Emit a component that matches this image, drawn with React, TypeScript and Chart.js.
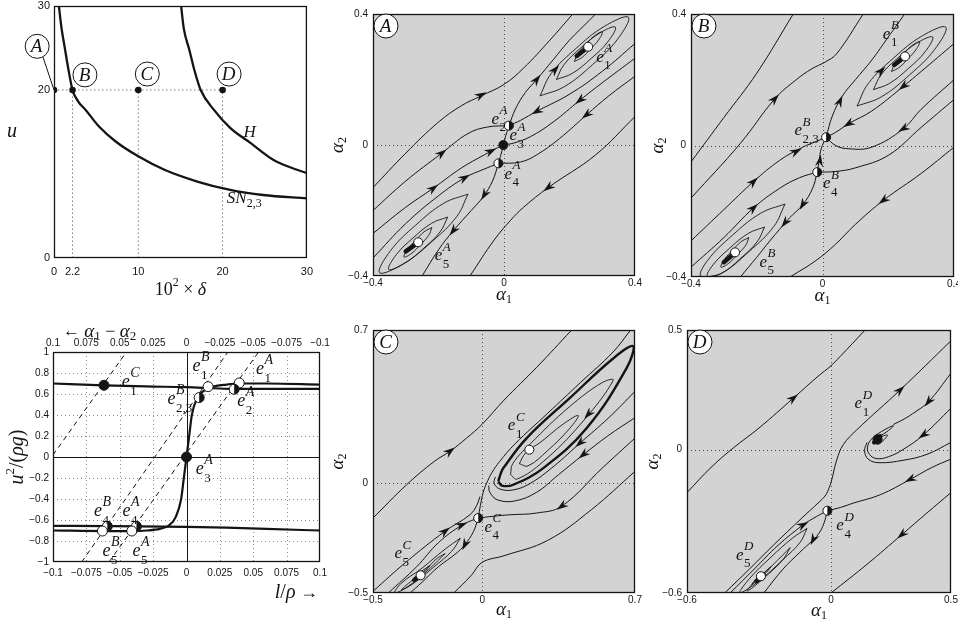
import React, { useEffect, useRef } from 'react';
import { Chart, registerables } from 'chart.js';
Chart.register(...registerables);

type Pt = [number, number];
type Arrow = [number, number, number, number];
type Eq = [number, number, 'f' | 'o' | 'h'];
type Lab = [number, number, string, string];

// ================= top-left: (10^2 delta, u) plane =================
const tlDeltaTicks = [0, 2.2, 10, 20, 30];
const tlUTicks = [0, 20, 30];
const snDelta = [0.58, 0.9, 1.25, 1.7, 2.2, 2.9, 3.78, 5.34, 7.28, 10, 13.1, 17, 20.9, 24.8, 30];
const snU = [30, 27.3, 25.2, 22.5, 20, 18.6, 17.6, 15.65, 13.9, 12.1, 10.5, 9.1, 8.1, 7.5, 7.1];
const hDelta = [15.08, 15.4, 16.05, 16.7, 17.4, 19, 20.9, 23.3, 26, 28, 30];
const hU = [30, 27.3, 24.8, 22.2, 20, 17.6, 15.5, 13.7, 11.7, 10.8, 10.1];
const tlMarkedDelta = [0, 2.2, 10, 20];
const tlMarkedU = 20;
const tlCircles: [number, number, string][] = [[-2, 25.2, 'A'], [3.67, 21.8, 'B'], [11.07, 21.9, 'C'], [20.77, 21.9, 'D']];
const tlLeader: Pt[] = [[-1.4, 24.2], [0, 20]];

// ================= bottom-left: (l/rho, u^2/(rho g)) =================
const blXTicks = [-0.1, -0.075, -0.05, -0.025, 0, 0.025, 0.05, 0.075, 0.1];
const blYTicks = [-1, -0.8, -0.6, -0.4, -0.2, 0, 0.2, 0.4, 0.6, 0.8, 1];
const blS: Pt[] = [[-0.1, -0.7], [-0.06, -0.705], [-0.04, -0.705], [-0.03, -0.7], [-0.02, -0.685], [-0.013, -0.65], [-0.008, -0.57], [-0.004, -0.4], [-0.002, -0.2], [0, 0], [0.002, 0.2], [0.004, 0.4], [0.008, 0.56], [0.013, 0.63], [0.02, 0.67], [0.03, 0.69], [0.04, 0.7], [0.06, 0.7], [0.1, 0.69]];
const blUpper: Pt[] = [[-0.1, 0.7], [-0.062, 0.683], [-0.03, 0.672], [0, 0.665], [0.02, 0.655], [0.0357, 0.648], [0.06, 0.648], [0.1, 0.648]];
const blLower: Pt[] = [[-0.1, -0.655], [-0.06, -0.658], [-0.037, -0.66], [0, -0.665], [0.03, -0.672], [0.06, -0.685], [0.1, -0.7]];
const blDashed: Pt[][] = [[[-0.1, 0.02], [-0.045, 1]], [[-0.0785, -1], [0.031, 1]], [[-0.058, -1], [0.054, 1]]];
const blEqs: Eq[] = [[-0.0618, 0.683, 'f'], [0.0162, 0.67, 'o'], [0.0395, 0.705, 'o'], [0.0357, 0.645, 'h'], [0.0095, 0.566, 'h'], [0, 0, 'f'], [-0.0593, -0.66, 'h'], [-0.0375, -0.66, 'h'], [-0.063, -0.705, 'o'], [-0.041, -0.705, 'o']];
const blLabels: Lab[] = [[-0.0455, 0.7, 'C', '1'], [0.0075, 0.857, 'B', '1'], [0.055, 0.826, 'A', '1'], [-0.0113, 0.54, 'B', '2,3'], [0.041, 0.524, 'A', '2'], [0.01, -0.127, 'A', '3'], [-0.0663, -0.524, 'B', '4'], [-0.045, -0.524, 'A', '4'], [-0.06, -0.905, 'B', '5'], [-0.0375, -0.905, 'A', '5']];

// ================= phase portrait A =================
const aTicks = [-0.4, 0, 0.4];
const aStreams: Pt[][] = [
  [[-0.4, -0.13], [-0.3, -0.025], [-0.2, 0.07], [-0.13, 0.12], [-0.07, 0.15], [0, 0.185], [0.06, 0.235], [0.14, 0.32], [0.21, 0.4]],
  [[-0.4, -0.2], [-0.3, -0.11], [-0.19, -0.025], [-0.11, 0.035], [-0.05, 0.055], [0.015, 0.059]],
  [[-0.4, -0.27], [-0.3, -0.19], [-0.216, -0.132], [-0.13, -0.07], [-0.06, -0.03], [-0.027, -0.012], [-0.002, 0]],
  [[-0.4, -0.345], [-0.3, -0.24], [-0.2, -0.155], [-0.12, -0.1], [-0.064, -0.075], [-0.017, -0.056]],
  [[0.4, 0.31], [0.3, 0.225], [0.2, 0.155], [0.1, 0.103], [0.05, 0.075], [0.015, 0.059]],
  [[0.4, 0.265], [0.3, 0.19], [0.232, 0.137], [0.15, 0.07], [0.08, 0.025], [0.03, 0.006], [-0.002, 0]],
  [[0.4, 0.21], [0.32, 0.15], [0.252, 0.092], [0.17, 0.02], [0.1, -0.03], [0.05, -0.052], [-0.017, -0.056]],
  [[0.4, 0.087], [0.28, -0.03], [0.135, -0.13], [0.06, -0.19], [0.02, -0.23], [-0.03, -0.29], [-0.104, -0.4]],
  [[0.015, 0.059], [0.035, 0.11], [0.065, 0.16], [0.1, 0.2], [0.15, 0.26], [0.2, 0.32], [0.26, 0.38], [0.28, 0.4]],
  [[0.015, 0.059], [0.006, 0.03], [-0.002, 0]],
  [[-0.017, -0.056], [-0.009, -0.028], [-0.002, 0]],
  [[-0.017, -0.056], [-0.035, -0.11], [-0.065, -0.16], [-0.1, -0.2], [-0.155, -0.262], [-0.2, -0.32], [-0.25, -0.4]],
];
const aLoops: Pt[][] = [
  [[0.11, 0.15], [0.144, 0.218], [0.22, 0.295], [0.306, 0.362], [0.38, 0.39], [0.346, 0.322], [0.27, 0.245], [0.184, 0.178]],
  [[0.16, 0.2], [0.183, 0.245], [0.234, 0.296], [0.291, 0.341], [0.34, 0.36], [0.317, 0.315], [0.266, 0.264], [0.209, 0.219]],
  [[0.215, 0.255], [0.225, 0.279], [0.25, 0.307], [0.276, 0.333], [0.3, 0.345], [0.289, 0.321], [0.264, 0.293], [0.239, 0.268]],
  [[-0.11, -0.15], [-0.144, -0.218], [-0.22, -0.295], [-0.306, -0.362], [-0.38, -0.39], [-0.346, -0.322], [-0.27, -0.245], [-0.184, -0.178]],
  [[-0.172, -0.22], [-0.195, -0.265], [-0.246, -0.316], [-0.303, -0.361], [-0.352, -0.38], [-0.329, -0.335], [-0.278, -0.284], [-0.221, -0.239]],
  [[-0.22, -0.252], [-0.23, -0.276], [-0.255, -0.304], [-0.281, -0.33], [-0.305, -0.342], [-0.294, -0.318], [-0.269, -0.29], [-0.244, -0.265]],
];
const aBlobs: Pt[][] = [[[0.222, 0.272], [0.255, 0.298]], [[-0.3, -0.325], [-0.265, -0.3]]];
const aArrows: Arrow[] = [
  [-0.07, 0.152, 1, 0.55], [-0.19, -0.025, 1, 0.8], [-0.216, -0.132, 1, 0.75], [-0.12, -0.1, 1, 0.55], [-0.04, -0.019, 1, 0.5],
  [0.1, 0.2, 0.8, 1], [0.156, 0.23, 1, 1.1], [0.1, 0.103, -1, -0.55], [0.232, 0.137, -1, -0.8], [0.252, 0.092, -1, -0.8],
  [0.135, -0.13, -1, -0.75], [-0.155, -0.262, -0.8, -1], [-0.06, -0.152, -0.6, -1],
];
const aEqs: Eq[] = [[0.257, 0.3, 'o'], [0.015, 0.059, 'h'], [-0.002, 0, 'f'], [-0.017, -0.056, 'h'], [-0.262, -0.297, 'o']];
const aLabels: Lab[] = [[0.293, 0.265, 'A', '1'], [-0.027, 0.076, 'A', '2'], [0.028, 0.025, 'A', '3'], [0.013, -0.092, 'A', '4'], [-0.2, -0.341, 'A', '5']];

// ================= phase portrait B =================
const bTicks = [-0.4, 0, 0.4];
const bStreams: Pt[][] = [
  [[-0.4, -0.05], [-0.3, 0.085], [-0.2, 0.22], [-0.089, 0.4]],
  [[-0.4, -0.16], [-0.251, 0.005], [-0.145, 0.142], [-0.08, 0.2], [-0.033, 0.233], [0.01, 0.255], [0.043, 0.279], [0.124, 0.4]],
  [[-0.4, -0.29], [-0.3, -0.195], [-0.21, -0.11], [-0.13, -0.045], [-0.06, -0.005], [-0.02, 0.012], [0.011, 0.025]],
  [[-0.4, -0.37], [-0.3, -0.28], [-0.21, -0.19], [-0.13, -0.13], [-0.07, -0.098], [-0.016, -0.081]],
  [[-0.016, -0.081], [-0.01, -0.045], [-0.004, -0.01], [0.011, 0.025]],
  [[-0.016, -0.081], [-0.03, -0.13], [-0.06, -0.18], [-0.1, -0.22], [-0.16, -0.29], [-0.2, -0.34], [-0.25, -0.4]],
  [[0.011, 0.025], [0.03, 0.09], [0.06, 0.15], [0.1, 0.2], [0.15, 0.26], [0.2, 0.33], [0.25, 0.4]],
  [[0.4, 0.31], [0.3, 0.225], [0.246, 0.18], [0.15, 0.105], [0.079, 0.066], [0.04, 0.04], [0.011, 0.025]],
  [[0.4, 0.2], [0.3, 0.11], [0.246, 0.051], [0.15, -0.005], [0.08, -0.01], [0.04, 0.0], [0.011, 0.025]],
  [[0.4, 0.14], [0.3, 0.055], [0.2, -0.03], [0.1, -0.068], [0.04, -0.079], [-0.016, -0.081]],
  [[0.4, -0.005], [0.3, -0.085], [0.185, -0.167], [0.1, -0.24], [0.04, -0.3], [-0.02, -0.35], [-0.099, -0.4]],
];
const bLoops: Pt[][] = [
  [[0.105, 0.12], [0.139, 0.188], [0.215, 0.265], [0.301, 0.332], [0.375, 0.36], [0.341, 0.292], [0.265, 0.215], [0.179, 0.148]],
  [[0.155, 0.17], [0.178, 0.215], [0.229, 0.266], [0.286, 0.311], [0.335, 0.33], [0.312, 0.285], [0.261, 0.234], [0.204, 0.189]],
  [[0.21, 0.225], [0.22, 0.249], [0.245, 0.277], [0.271, 0.303], [0.295, 0.315], [0.284, 0.291], [0.259, 0.263], [0.234, 0.238]],
  [[-0.114, -0.178], [-0.148, -0.246], [-0.224, -0.323], [-0.31, -0.39], [-0.37, -0.398], [-0.35, -0.35], [-0.274, -0.273], [-0.188, -0.206]],
  [[-0.176, -0.248], [-0.199, -0.293], [-0.25, -0.344], [-0.307, -0.389], [-0.35, -0.398], [-0.333, -0.363], [-0.282, -0.312], [-0.225, -0.267]],
  [[-0.224, -0.28], [-0.234, -0.304], [-0.259, -0.332], [-0.285, -0.358], [-0.309, -0.37], [-0.298, -0.346], [-0.273, -0.318], [-0.248, -0.293]],
];
const bBlobs: Pt[][] = [[[0.218, 0.245], [0.25, 0.27]], [[-0.3, -0.355], [-0.268, -0.328]]];
const bArrows: Arrow[] = [
  [-0.145, 0.142, 1, 1.1], [-0.21, -0.11, 1, 0.95], [-0.21, -0.19, 1, 0.9], [-0.08, -0.018, 1, 0.5], [-0.008, -0.046, 0.15, 1],
  [0.053, 0.135, 0.45, 1], [0.079, 0.066, -1, -0.6], [0.246, 0.18, -1, -0.8], [0.246, 0.051, -1, -0.6], [0.185, -0.167, -1, -0.75],
  [-0.06, -0.18, -0.6, -1], [-0.114, -0.235, -0.8, -1], [0.178, 0.227, 1, 1],
];
const bEqs: Eq[] = [[0.251, 0.271, 'o'], [0.011, 0.025, 'h'], [-0.016, -0.081, 'h'], [-0.266, -0.325, 'o']];
const bLabels: Lab[] = [[0.195, 0.336, 'B', '1'], [-0.074, 0.042, 'B', '2,3'], [0.013, -0.12, 'B', '4'], [-0.18, -0.358, 'B', '5']];

// ================= phase portrait C =================
const cTicks = [-0.5, 0, 0.7];
const cStreams: Pt[][] = [
  [[-0.5, -0.158], [-0.346, -0.006], [-0.22, 0.1], [-0.147, 0.147], [-0.071, 0.207], [0, 0.27], [0.1, 0.38], [0.25, 0.53], [0.41, 0.7]],
  [[-0.5, -0.492], [-0.35, -0.36], [-0.17, -0.218], [-0.056, -0.143], [-0.025, -0.1], [-0.01, -0.06]],
  [[-0.43, -0.5], [-0.3, -0.38], [-0.2, -0.27], [-0.094, -0.19], [-0.05, -0.17], [-0.018, -0.158]],
  [[-0.018, -0.158], [-0.04, -0.22], [-0.079, -0.279], [-0.12, -0.32], [-0.2, -0.38], [-0.28, -0.455], [-0.33, -0.5]],
  [[-0.018, -0.158], [-0.008, -0.1], [0.005, -0.04], [0.02, 0], [0.045, 0.05], [0.08, 0.1], [0.15, 0.18], [0.3, 0.32], [0.45, 0.46], [0.6, 0.6], [0.68, 0.7]],
  [[0.7, 0.42], [0.58, 0.3], [0.448, 0.184], [0.33, 0.08], [0.22, 0], [0.14, -0.03], [0.08, -0.025], [0.055, 0], [0.06, 0.03]],
  [[0.7, 0.3], [0.58, 0.22], [0.463, 0.131], [0.35, 0.04], [0.25, -0.04], [0.15, -0.08], [0.07, -0.075], [0.035, -0.04], [0.03, -0.01]],
  [[0.7, 0.207], [0.55, 0.07], [0.364, -0.104], [0.25, -0.135], [0.128, -0.143], [0.05, -0.15], [-0.018, -0.158]],
  [[0.7, 0.055], [0.5, -0.12], [0.3, -0.26], [0.1, -0.33], [0, -0.36], [-0.05, -0.42], [-0.13, -0.5]],
];
const cBold: Pt[][] = [
  [[0.074, 0.01], [0.085, 0.045], [0.097, 0.07], [0.204, 0.207], [0.402, 0.39], [0.6, 0.57], [0.692, 0.626], [0.662, 0.527], [0.479, 0.253], [0.28, 0.07], [0.143, -0.006], [0.09, -0.01], [0.074, 0.01]],
];
const cLoops: Pt[][] = [
  [[0.13, 0.04], [0.16, 0.02], [0.28, 0.1], [0.45, 0.27], [0.6, 0.47], [0.55, 0.46], [0.4, 0.35], [0.22, 0.18], [0.14, 0.09]],
  [[0.17, 0.09], [0.21, 0.08], [0.3, 0.15], [0.4, 0.25], [0.44, 0.31], [0.37, 0.27], [0.27, 0.19], [0.2, 0.14]],
  [[-0.1, -0.25], [-0.14, -0.31], [-0.22, -0.38], [-0.32, -0.46], [-0.4, -0.5], [-0.37, -0.455], [-0.28, -0.39], [-0.17, -0.3]],
  [[-0.17, -0.32], [-0.21, -0.36], [-0.27, -0.415], [-0.34, -0.47], [-0.37, -0.485], [-0.33, -0.45], [-0.26, -0.395], [-0.21, -0.345]],
  [[-0.24, -0.375], [-0.26, -0.4], [-0.29, -0.425], [-0.32, -0.445], [-0.3, -0.42], [-0.27, -0.395]],
];
const cBlobs: Pt[][] = [[[-0.31, -0.44], [-0.285, -0.42]]];
const cArrows: Arrow[] = [
  [-0.147, 0.147, 1, 0.75], [-0.17, -0.218, 1, 0.8], [-0.094, -0.19, 1, 0.4], [-0.079, -0.279, -0.5, -1],
  [0.486, 0.315, -1, -1.1], [0.448, 0.184, -1, -0.9], [0.463, 0.131, -1, -0.8], [0.364, -0.104, -1, -0.7],
];
const cEqs: Eq[] = [[0.216, 0.154, 'o'], [-0.018, -0.158, 'h'], [-0.282, -0.419, 'o']];
const cLabels: Lab[] = [[0.135, 0.259, 'C', '1'], [0.028, -0.205, 'C', '4'], [-0.384, -0.326, 'C', '5']];

// ================= phase portrait D =================
const dTicks = [-0.6, 0, 0.5];
const dStreams: Pt[][] = [
  [[-0.6, -0.18], [-0.5, -0.075], [-0.408, 0.006], [-0.3, 0.09], [-0.157, 0.215], [-0.05, 0.31], [-0.004, 0.347], [0.038, 0.389], [0.142, 0.5]],
  [[-0.443, -0.6], [-0.34, -0.5], [-0.24, -0.4], [-0.12, -0.285], [-0.05, -0.22], [-0.022, -0.19], [-0.008, -0.16], [0.003, -0.127], [0.024, -0.043], [0.051, 0.02], [0.107, 0.082], [0.288, 0.249], [0.5, 0.455]],
  [[-0.42, -0.6], [-0.32, -0.5], [-0.22, -0.4], [-0.116, -0.315], [-0.06, -0.28], [-0.015, -0.256]],
  [[-0.015, -0.256], [-0.03, -0.31], [-0.05, -0.35], [-0.074, -0.377], [-0.13, -0.43], [-0.2, -0.5], [-0.28, -0.6]],
  [[-0.015, -0.256], [0.04, -0.242], [0.093, -0.224], [0.205, -0.189], [0.33, -0.125], [0.42, -0.075], [0.5, -0.04]],
  [[0.5, -0.18], [0.4, -0.265], [0.295, -0.356], [0.15, -0.48], [0, -0.6]],
  [[0.5, 0.319], [0.406, 0.2], [0.34, 0.15], [0.3, 0.125], [0.26, 0.105]],
  [[0.5, 0.173], [0.385, 0.061], [0.3, 0], [0.24, -0.03], [0.19, -0.038], [0.16, -0.02], [0.152, 0.01], [0.17, 0.045], [0.21, 0.075], [0.26, 0.1], [0.24, 0.08], [0.21, 0.06]],
  [[0.5, 0.03], [0.4, -0.02], [0.3, -0.045], [0.2, -0.055], [0.155, -0.04], [0.14, -0.005], [0.15, 0.03]],
];
const dLoops: Pt[][] = [
  [[-0.1, -0.33], [-0.13, -0.39], [-0.2, -0.46], [-0.3, -0.55], [-0.38, -0.6], [-0.34, -0.54], [-0.25, -0.45], [-0.16, -0.37]],
  [[-0.17, -0.41], [-0.2, -0.46], [-0.26, -0.52], [-0.33, -0.58], [-0.35, -0.59], [-0.31, -0.545], [-0.25, -0.49], [-0.2, -0.44]],
  [[-0.25, -0.49], [-0.27, -0.515], [-0.3, -0.54], [-0.33, -0.565], [-0.315, -0.545], [-0.285, -0.52]],
  [[0.18, 0.03], [0.195, 0.022], [0.215, 0.035], [0.235, 0.06], [0.22, 0.058], [0.195, 0.045]],
];
const dBlobs: Pt[][] = [[[0.18, 0.03], [0.205, 0.055]], [[-0.31, -0.55], [-0.28, -0.525]]];
const dArrows: Arrow[] = [
  [-0.157, 0.215, 1, 0.8], [0.288, 0.249, 1, 0.95], [0.406, 0.2, -0.8, -1], [0.385, 0.061, -1, -0.7],
  [0.33, -0.125, -1, -0.5], [0.295, -0.356, -1, -0.85], [-0.116, -0.315, 1, 0.55], [-0.074, -0.377, -0.5, -1],
];
const dEqs: Eq[] = [[0.194, 0.043, 'f'], [-0.015, -0.256, 'h'], [-0.292, -0.53, 'o']];
const dLabels: Lab[] = [[0.114, 0.187, 'D', '1'], [0.038, -0.322, 'D', '4'], [-0.38, -0.447, 'D', '5']];

// ================= styling helpers =================
const SANS = '"Liberation Sans", Arial, sans-serif';
const SERIF = '"Liberation Serif", "DejaVu Serif", serif';
const INK = '#141414';
const BG = '#d3d3d3';

function fmt(v: number): string {
  const s = String(+v.toFixed(3));
  return v < 0 ? '\u2212' + s.slice(1) : s;
}

type Piece = { t: string; s: number; i?: boolean; dy?: number };
function drawPieces(ctx: CanvasRenderingContext2D, x: number, y: number, pieces: Piece[], align: 'left' | 'center' | 'right' = 'left') {
  ctx.save();
  ctx.textBaseline = 'middle';
  ctx.textAlign = 'left';
  ctx.fillStyle = INK;
  const f = (p: Piece) => `${p.i ? 'italic ' : ''}${p.s}px ${SERIF}`;
  let w = 0;
  for (const p of pieces) { ctx.font = f(p); w += ctx.measureText(p.t).width; }
  let cx = align === 'center' ? x - w / 2 : align === 'right' ? x - w : x;
  for (const p of pieces) { ctx.font = f(p); ctx.fillText(p.t, cx, y + (p.dy || 0)); cx += ctx.measureText(p.t).width; }
  ctx.restore();
}

function drawELabel(ctx: CanvasRenderingContext2D, px: number, py: number, sup: string, sub: string, size = 17) {
  ctx.save();
  ctx.fillStyle = INK;
  ctx.textBaseline = 'middle';
  ctx.textAlign = 'left';
  ctx.font = `italic ${size}px ${SERIF}`;
  const ew = ctx.measureText('e').width;
  ctx.fillText('e', px - ew / 2, py - 1);
  const sx = px + ew / 2 + 0.5;
  ctx.font = `italic ${Math.round(size * 0.76)}px ${SERIF}`;
  ctx.fillText(sup, sx, py - size * 0.55);
  ctx.font = `${Math.round(size * 0.74)}px ${SERIF}`;
  ctx.fillText(sub, sx, py + size * 0.45);
  ctx.restore();
}

function drawEq(ctx: CanvasRenderingContext2D, x: number, y: number, k: string, r: number) {
  ctx.save();
  ctx.lineWidth = 1;
  ctx.strokeStyle = INK;
  ctx.beginPath(); ctx.arc(x, y, r, 0, Math.PI * 2);
  ctx.fillStyle = k === 'f' ? INK : '#ffffff';
  ctx.fill();
  if (k === 'h') {
    ctx.beginPath(); ctx.moveTo(x, y - r); ctx.arc(x, y, r, -Math.PI / 2, Math.PI / 2); ctx.closePath();
    ctx.fillStyle = INK; ctx.fill();
  }
  ctx.beginPath(); ctx.arc(x, y, r, 0, Math.PI * 2); ctx.stroke();
  ctx.restore();
}

function drawArrowHead(ctx: CanvasRenderingContext2D, chart: any, a: Arrow) {
  const xs = chart.scales.x, ys = chart.scales.y;
  const px = xs.getPixelForValue(a[0]), py = ys.getPixelForValue(a[1]);
  const qx = xs.getPixelForValue(a[0] + a[2] * 0.01), qy = ys.getPixelForValue(a[1] + a[3] * 0.01);
  let ux = qx - px, uy = qy - py;
  const L = Math.hypot(ux, uy) || 1; ux /= L; uy /= L;
  const nx = -uy, ny = ux;
  const len = 12, half = 4;
  ctx.save();
  ctx.fillStyle = INK;
  ctx.beginPath();
  ctx.moveTo(px + ux * len * 0.5, py + uy * len * 0.5);
  ctx.lineTo(px - ux * len * 0.5 + nx * half, py - uy * len * 0.5 + ny * half);
  ctx.lineTo(px - ux * len * 0.18, py - uy * len * 0.18);
  ctx.lineTo(px - ux * len * 0.5 - nx * half, py - uy * len * 0.5 - ny * half);
  ctx.closePath();
  ctx.fill();
  ctx.restore();
}

function drawFrame(ctx: CanvasRenderingContext2D, a: any, w = 1.3) {
  ctx.save();
  ctx.strokeStyle = INK;
  ctx.lineWidth = w;
  ctx.setLineDash([]);
  ctx.strokeRect(a.left + 0.5, a.top + 0.5, a.width - 1, a.height - 1);
  ctx.restore();
}

function circledLetter(ctx: CanvasRenderingContext2D, x: number, y: number, t: string, r = 12) {
  ctx.save();
  ctx.beginPath(); ctx.arc(x, y, r, 0, Math.PI * 2);
  ctx.fillStyle = '#ffffff'; ctx.fill();
  ctx.strokeStyle = INK; ctx.lineWidth = 1; ctx.stroke();
  ctx.fillStyle = INK;
  ctx.font = `italic 19px ${SERIF}`;
  ctx.textAlign = 'center'; ctx.textBaseline = 'middle';
  ctx.fillText(t, x - 0.5, y + 1);
  ctx.restore();
}

function axis(min: number, max: number, ticks: number[], opts: { isX: boolean; size: number; pad: number; font: number; pos?: string; reverse?: boolean }) {
  return {
    type: 'linear', min, max, position: opts.pos, reverse: !!opts.reverse,
    afterBuildTicks: (s: any) => { s.ticks = ticks.map((v) => ({ value: v })); },
    grid: { display: false, drawTicks: false },
    border: { display: false },
    ticks: { autoSkip: false, maxRotation: 0, minRotation: 0, padding: opts.pad, color: INK, font: { family: SANS, size: opts.font }, callback: (v: any) => fmt(Number(v)) },
    afterFit: (s: any) => { if (opts.isX) s.height = opts.size; else s.width = opts.size; },
  };
}

const lineDs = (pts: Pt[], w: number, closed = false, extra: any = {}) => ({
  data: (closed ? [...pts, pts[0]] : pts).map(([x, y]) => ({ x, y })),
  showLine: true, borderColor: INK, borderWidth: w, pointRadius: 0, pointHoverRadius: 0, tension: 0.4, fill: false, ...extra,
});

const baseOptions = { responsive: false, maintainAspectRatio: false, devicePixelRatio: 1, animation: false, events: [], plugins: { legend: { display: false }, tooltip: { enabled: false } } };

// ================= phase config =================
interface PhaseSpec {
  min: number; max: number; ticks: number[]; streams: Pt[][]; loops: Pt[][]; bold: Pt[][]; blobs: Pt[][];
  arrows: Arrow[]; eqs: Eq[]; labels: Lab[]; letter: string; yW: number; xH: number; padTop: number; padRight: number; xTitleDy: number; yTitleDx: number;
}
function phaseConfig(p: PhaseSpec) {
  const datasets = [
    ...p.blobs.map((b) => lineDs(b, 4.5, false, { tension: 0, borderCapStyle: 'round' })),
    ...p.bold.map((b) => lineDs(b, 2.4)),
    ...p.loops.map((l) => lineDs(l, 0.9, true)),
    ...p.streams.map((s) => lineDs(s, 1)),
  ];
  const plugin = {
    id: 'phase' + p.letter,
    beforeDraw(chart: any) {
      const { ctx, chartArea: a } = chart;
      ctx.save(); ctx.fillStyle = BG; ctx.fillRect(a.left, a.top, a.width, a.height); ctx.restore();
    },
    beforeDatasetsDraw(chart: any) {
      const { ctx, chartArea: a } = chart;
      const x0 = Math.round(chart.scales.x.getPixelForValue(0)) + 0.5;
      const y0 = Math.round(chart.scales.y.getPixelForValue(0)) + 0.5;
      ctx.save(); ctx.strokeStyle = '#4a4a4a'; ctx.lineWidth = 1; ctx.setLineDash([1, 3]);
      ctx.beginPath(); ctx.moveTo(x0, a.top); ctx.lineTo(x0, a.bottom); ctx.moveTo(a.left, y0); ctx.lineTo(a.right, y0); ctx.stroke();
      ctx.restore();
    },
    afterDatasetsDraw(chart: any) {
      const { ctx, chartArea: a } = chart;
      const xs = chart.scales.x, ys = chart.scales.y;
      for (const ar of p.arrows) drawArrowHead(ctx, chart, ar);
      for (const e of p.eqs) drawEq(ctx, xs.getPixelForValue(e[0]), ys.getPixelForValue(e[1]), e[2], 4.5);
      for (const l of p.labels) drawELabel(ctx, xs.getPixelForValue(l[0]), ys.getPixelForValue(l[1]), l[2], l[3]);
      drawFrame(ctx, a);
      circledLetter(ctx, a.left + 13, a.top + 12, p.letter);
      drawPieces(ctx, (a.left + a.right) / 2, a.bottom + p.xTitleDy, [{ t: 'α', s: 19, i: true }, { t: '1', s: 12, dy: 5 }], 'center');
      ctx.save();
      ctx.translate(a.left - p.yTitleDx, (a.top + a.bottom) / 2);
      ctx.rotate(-Math.PI / 2);
      drawPieces(ctx, 0, 0, [{ t: 'α', s: 19, i: true }, { t: '2', s: 12, dy: 5 }], 'center');
      ctx.restore();
    },
  };
  return {
    type: 'scatter',
    data: { datasets },
    options: {
      ...baseOptions,
      layout: { padding: { top: p.padTop, right: p.padRight, left: 0, bottom: 0 } },
      scales: {
        x: axis(p.min, p.max, p.ticks, { isX: true, size: p.xH, pad: 1, font: 10 }),
        y: axis(p.min, p.max, p.ticks, { isX: false, size: p.yW, pad: 5, font: 10 }),
      },
    },
    plugins: [plugin],
  };
}

// ================= top-left config =================
function tlConfig() {
  const dotted = (a: Pt, b: Pt) => ({ data: [{ x: a[0], y: a[1] }, { x: b[0], y: b[1] }], showLine: true, borderColor: '#7a7a7a', borderWidth: 1, borderDash: [1.5, 2.5], pointRadius: 0, tension: 0 });
  const datasets = [
    { data: tlMarkedDelta.map((x) => ({ x, y: tlMarkedU })), showLine: false, pointRadius: 3.3, pointBackgroundColor: INK, pointBorderColor: INK, pointBorderWidth: 0 },
    { data: snDelta.map((x, i) => ({ x, y: snU[i] })), showLine: true, borderColor: INK, borderWidth: 2.3, pointRadius: 0, cubicInterpolationMode: 'monotone' },
    { data: hDelta.map((x, i) => ({ x, y: hU[i] })), showLine: true, borderColor: INK, borderWidth: 2.3, pointRadius: 0, cubicInterpolationMode: 'monotone' },
    dotted([0, tlMarkedU], [tlMarkedDelta[tlMarkedDelta.length - 1], tlMarkedU]),
    ...tlMarkedDelta.slice(1).map((d) => dotted([d, 0], [d, tlMarkedU])),
  ];
  const plugin = {
    id: 'tlDecor',
    afterDatasetsDraw(chart: any) {
      const { ctx, chartArea: a } = chart;
      const xs = chart.scales.x, ys = chart.scales.y;
      drawFrame(ctx, a);
      ctx.save(); ctx.strokeStyle = INK; ctx.lineWidth = 1; ctx.beginPath();
      ctx.moveTo(xs.getPixelForValue(tlLeader[0][0]), ys.getPixelForValue(tlLeader[0][1]));
      ctx.lineTo(xs.getPixelForValue(tlLeader[1][0]), ys.getPixelForValue(tlLeader[1][1]));
      ctx.stroke(); ctx.restore();
      for (const c of tlCircles) circledLetter(ctx, xs.getPixelForValue(c[0]), ys.getPixelForValue(c[1]), c[2]);
      drawPieces(ctx, xs.getPixelForValue(23.2), ys.getPixelForValue(14.9), [{ t: 'H', s: 17, i: true }], 'center');
      drawPieces(ctx, xs.getPixelForValue(20.5), ys.getPixelForValue(7.1), [{ t: 'SN', s: 17, i: true }, { t: '2,3', s: 12, dy: 5 }], 'left');
      drawPieces(ctx, (a.left + a.right) / 2, a.bottom + 32, [{ t: '10', s: 18 }, { t: '2', s: 12, dy: -7 }, { t: ' × ', s: 18 }, { t: 'δ', s: 18, i: true }], 'center');
      drawPieces(ctx, 12, (a.top + a.bottom) / 2, [{ t: 'u', s: 20, i: true }], 'center');
    },
  };
  return {
    type: 'scatter',
    data: { datasets },
    options: {
      ...baseOptions,
      layout: { padding: { top: 16, right: 9, left: 0, bottom: 0 } },
      scales: {
        x: axis(0, 30, tlDeltaTicks, { isX: true, size: 47, pad: 7, font: 11 }),
        y: axis(0, 30, tlUTicks, { isX: false, size: 54, pad: 4, font: 11 }),
      },
    },
    plugins: [plugin],
  };
}

// ================= bottom-left config =================
function blConfig() {
  const datasets = [
    lineDs(blS, 2.2, false, { tension: 0, cubicInterpolationMode: 'monotone' }),
    lineDs(blUpper, 2.2, false, { tension: 0, cubicInterpolationMode: 'monotone' }),
    lineDs(blLower, 2.2, false, { tension: 0, cubicInterpolationMode: 'monotone' }),
    ...blDashed.map((d) => lineDs(d, 1, false, { tension: 0, borderDash: [5, 4] })),
  ];
  const plugin = {
    id: 'blDecor',
    beforeDatasetsDraw(chart: any) {
      const { ctx, chartArea: a } = chart;
      const xs = chart.scales.x, ys = chart.scales.y;
      ctx.save();
      ctx.lineWidth = 1;
      for (const v of blXTicks.slice(1, -1)) {
        const px = Math.round(xs.getPixelForValue(v)) + 0.5;
        ctx.strokeStyle = v === 0 ? INK : '#8a8a8a'; ctx.setLineDash(v === 0 ? [] : [1, 3]);
        ctx.beginPath(); ctx.moveTo(px, a.top); ctx.lineTo(px, a.bottom); ctx.stroke();
      }
      for (const v of blYTicks.slice(1, -1)) {
        const py = Math.round(ys.getPixelForValue(v)) + 0.5;
        ctx.strokeStyle = v === 0 ? INK : '#8a8a8a'; ctx.setLineDash(v === 0 ? [] : [1, 3]);
        ctx.beginPath(); ctx.moveTo(a.left, py); ctx.lineTo(a.right, py); ctx.stroke();
      }
      ctx.restore();
    },
    afterDatasetsDraw(chart: any) {
      const { ctx, chartArea: a } = chart;
      const xs = chart.scales.x, ys = chart.scales.y;
      for (const e of blEqs) drawEq(ctx, xs.getPixelForValue(e[0]), ys.getPixelForValue(e[1]), e[2], 5);
      for (const l of blLabels) drawELabel(ctx, xs.getPixelForValue(l[0]), ys.getPixelForValue(l[1]), l[2], l[3], 18);
      drawFrame(ctx, a);
      drawPieces(ctx, a.left + 10, a.top - 20, [{ t: '← ', s: 17 }, { t: 'α', s: 19, i: true }, { t: '1', s: 13, dy: 5 }, { t: ' − ', s: 18 }, { t: 'α', s: 19, i: true }, { t: '2', s: 13, dy: 5 }], 'left');
      drawPieces(ctx, a.right - 2, a.bottom + 31, [{ t: 'l', s: 20, i: true }, { t: '/', s: 20 }, { t: 'ρ', s: 20, i: true }, { t: ' →', s: 18 }], 'right');
      ctx.save();
      ctx.translate(18, (a.top + a.bottom) / 2);
      ctx.rotate(-Math.PI / 2);
      drawPieces(ctx, 0, 0, [{ t: 'u', s: 20, i: true }, { t: '2', s: 13, dy: -7 }, { t: '/(', s: 20 }, { t: 'ρg', s: 20, i: true }, { t: ')', s: 20 }], 'center');
      ctx.restore();
    },
  };
  return {
    type: 'scatter',
    data: { datasets },
    options: {
      ...baseOptions,
      layout: { padding: { top: 0, right: 15, left: 0, bottom: 0 } },
      scales: {
        x: axis(-0.1, 0.1, blXTicks, { isX: true, size: 61, pad: 5, font: 10 }),
        x2: axis(-0.1, 0.1, blXTicks, { isX: true, size: 42, pad: 3, font: 10, pos: 'top', reverse: true }),
        y: axis(-1, 1, blYTicks, { isX: false, size: 53, pad: 4, font: 10 }),
      },
    },
    plugins: [plugin],
  };
}

function ChartBox({ make, left, top, w, h }: { make: () => any; left: number; top: number; w: number; h: number }) {
  const ref = useRef<HTMLCanvasElement>(null);
  useEffect(() => {
    const chart = new Chart(ref.current as HTMLCanvasElement, make());
    return () => chart.destroy();
  }, []);
  return <canvas ref={ref} width={w} height={h} style={{ position: 'absolute', left, top, width: w, height: h }} />;
}

export default function App() {
  return (
    <div style={{ position: 'fixed', left: 0, top: 0, width: 958, height: 623, overflow: 'hidden', background: '#ffffff' }}>
      <ChartBox make={tlConfig} left={0} top={-10} w={320} h={315} />
      <ChartBox make={blConfig} left={0} top={310} w={335} h={313} />
      <ChartBox make={() => phaseConfig({ min: -0.4, max: 0.4, ticks: aTicks, streams: aStreams, loops: aLoops, bold: [], blobs: aBlobs, arrows: aArrows, eqs: aEqs, labels: aLabels, letter: 'A', yW: 55, xH: 34, padTop: 14, padRight: 13, xTitleDy: 19, yTitleDx: 35 })} left={318} top={0} w={330} h={310} />
      <ChartBox make={() => phaseConfig({ min: -0.4, max: 0.4, ticks: bTicks, streams: bStreams, loops: bLoops, bold: [], blobs: bBlobs, arrows: bArrows, eqs: bEqs, labels: bLabels, letter: 'B', yW: 55, xH: 33, padTop: 14, padRight: 12, xTitleDy: 19, yTitleDx: 33 })} left={636} top={0} w={330} h={310} />
      <ChartBox make={() => phaseConfig({ min: -0.5, max: 0.7, ticks: cTicks, streams: cStreams, loops: cLoops, bold: cBold, blobs: cBlobs, arrows: cArrows, eqs: cEqs, labels: cLabels, letter: 'C', yW: 55, xH: 30, padTop: 14, padRight: 13, xTitleDy: 17, yTitleDx: 35 })} left={318} top={316} w={330} h={307} />
      <ChartBox make={() => phaseConfig({ min: -0.6, max: 0.5, ticks: dTicks, streams: dStreams, loops: dLoops, bold: [], blobs: dBlobs, arrows: dArrows, eqs: dEqs, labels: dLabels, letter: 'D', yW: 55, xH: 30, padTop: 14, padRight: 13, xTitleDy: 18, yTitleDx: 34 })} left={632} top={316} w={332} h={307} />
    </div>
  );
}
